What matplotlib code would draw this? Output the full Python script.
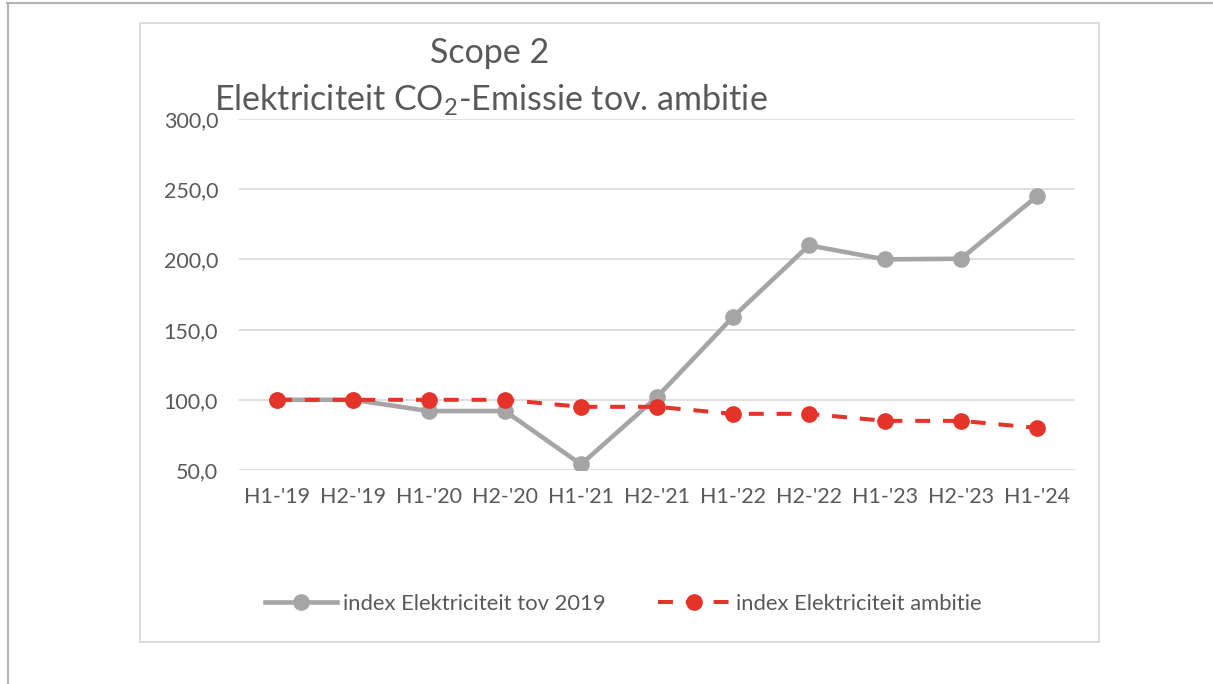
import matplotlib.pyplot as plt
from matplotlib.lines import Line2D
from matplotlib.patches import Rectangle

# data
perioden = ["H1-'19", "H2-'19", "H1-'20", "H2-'20", "H1-'21", "H2-'21",
            "H1-'22", "H2-'22", "H1-'23", "H2-'23", "H1-'24"]
index_tov_2019 = [100.0, 100.0, 92.0, 92.0, 54.0, 102.0, 159.0, 210.0, 200.0, 200.5, 245.0]
index_ambitie = [100.0, 100.0, 100.0, 100.0, 95.0, 95.0, 90.0, 90.0, 85.0, 85.0, 80.0]
y_ticks = [50, 100, 150, 200, 250, 300]

plt.rcParams['font.family'] = ['Lato', 'DejaVu Sans']
plt.rcParams['mathtext.fontset'] = 'custom'
plt.rcParams['mathtext.rm'] = 'Lato'

W, H = 1213, 684
tekst_kleur = '#595959'
grijs = '#a5a5a5'
rood = '#e5332a'

fig = plt.figure(figsize=(W / 100, H / 100), dpi=100)

# pagina randen (screenshot)
fig.add_artist(Line2D([7.5 / W, 7.5 / W], [0, 1 - 3 / H], transform=fig.transFigure,
                      color='#b4b4b4', lw=1.5))
fig.add_artist(Line2D([7 / W, 1], [1 - 3 / H, 1 - 3 / H], transform=fig.transFigure,
                      color='#b4b4b4', lw=1.5))

# kader van de grafiek
fig.add_artist(Rectangle((140 / W, 1 - 642 / H), 959 / W, 619 / H, transform=fig.transFigure,
                         fill=False, edgecolor='#d9d9d9', lw=1.3))

ax = fig.add_axes([239 / W, 1 - 470 / H, 836 / W, 351 / H])
x = list(range(len(perioden)))

ax.plot(x, index_tov_2019, color=grijs, lw=3.3, marker='o', markersize=11,
        label='index Elektriciteit tov 2019', zorder=3)
ax.plot(x, index_ambitie, color=rood, lw=2.9, marker='o', markersize=11,
        dashes=(3.7, 3.2), label='index Elektriciteit ambitie', zorder=4)

ax.set_xlim(-0.5, len(perioden) - 0.5)
ax.set_ylim(50, 300)
ax.set_yticks(y_ticks)
ax.set_yticklabels([f'{v:.1f}'.replace('.', ',') for v in y_ticks])
ax.set_xticks(x)
ax.set_xticklabels(perioden)
ax.tick_params(axis='y', length=0, pad=15, labelsize=15.5, labelcolor=tekst_kleur)
ax.tick_params(axis='x', length=0, pad=12, labelsize=15.5, labelcolor=tekst_kleur)
ax.grid(axis='y', color='#d9d9d9', lw=1.2)
ax.set_axisbelow(True)
for s in ax.spines.values():
    s.set_visible(False)

# titel
fig.text(490 / W, 1 - 63 / H, 'Scope 2', ha='center', va='baseline',
         fontsize=24.5, color=tekst_kleur)
fig.text(491 / W, 1 - 110 / H, 'Elektriciteit CO$_2$-Emissie tov. ambitie', ha='center',
         va='baseline', fontsize=24.5, color=tekst_kleur)

ax.legend(loc='center', bbox_to_anchor=(623 / W, 1 - 604 / H), bbox_transform=fig.transFigure,
          ncol=2, frameon=False, fontsize=15.8, labelcolor=tekst_kleur, handlelength=3.3,
          handletextpad=0.25, columnspacing=2.4)

fig.savefig('out.png', dpi=100)
